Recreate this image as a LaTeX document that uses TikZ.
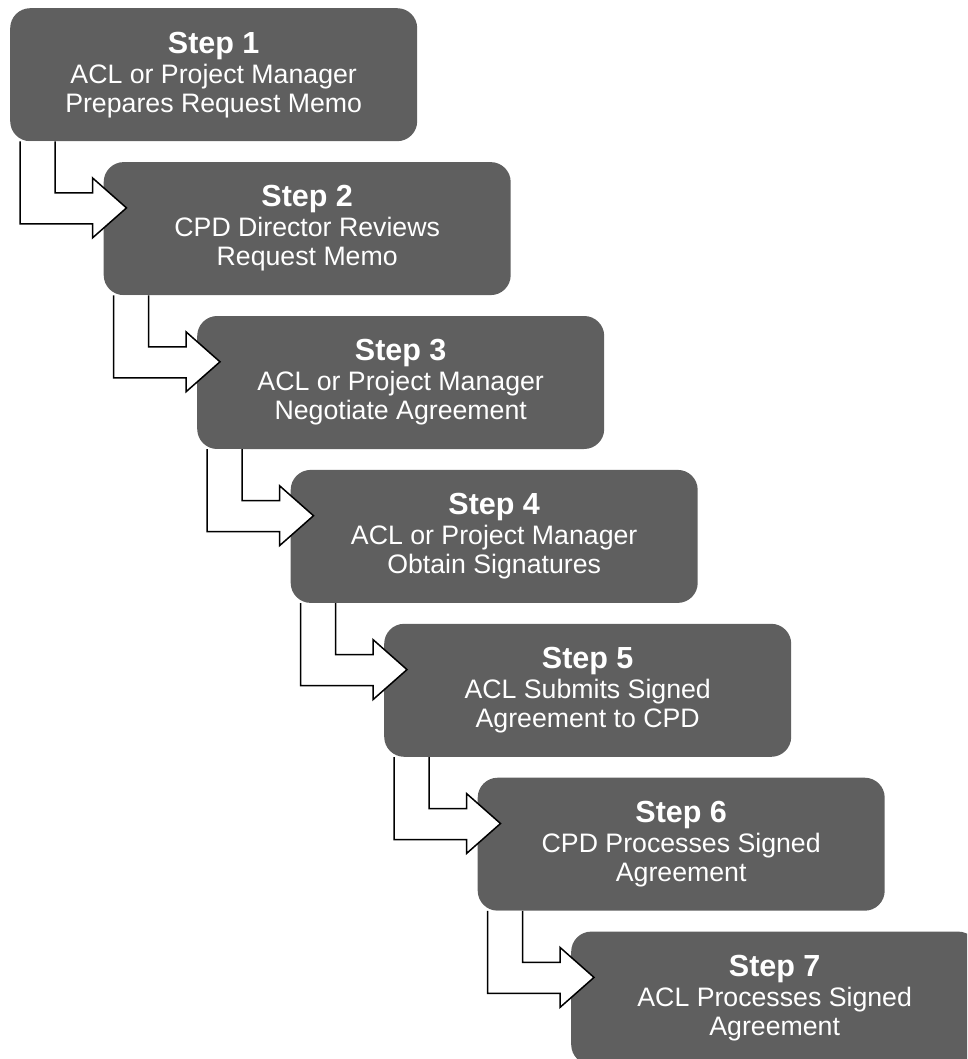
\documentclass[tikz,border=0pt]{standalone}
\usepackage{fontspec}
\setmainfont{Liberation Sans}
\usetikzlibrary{positioning}
\definecolor{boxgray}{RGB}{95,95,95}
\newcommand\stephead[1]{{\fontsize{30.5}{33}\selectfont\bfseries #1}}

\begin{document}
\begin{tikzpicture}[x=1pt,y=1pt,
  stepbox/.style={fill=boxgray,text=white,rounded corners=20pt,align=center,
    minimum width=407pt,minimum height=133pt,inner sep=0pt,
    font=\fontsize{26.7}{29}\selectfont},
  nextstep/.style={below=20.5pt of #1.south west,anchor=north west,xshift=93.5pt},
  turn/.style={draw=black,fill=white,line width=1.5pt,line join=miter}
]
  \clip (0,0) rectangle (967,-1059);
  \node[stepbox,anchor=north west] (s1) at (10,-8)
    {\stephead{Step 1}\\[1pt]ACL or Project Manager\\Prepares Request Memo};
  \node[stepbox,nextstep=s1] (s2) {\stephead{Step 2}\\[1pt]CPD Director Reviews\\Request Memo};
  \node[stepbox,nextstep=s2] (s3) {\stephead{Step 3}\\[1pt]ACL or Project Manager\\Negotiate Agreement};
  \node[stepbox,nextstep=s3] (s4) {\stephead{Step 4}\\[1pt]ACL or Project Manager\\Obtain Signatures};
  \node[stepbox,nextstep=s4] (s5) {\stephead{Step 5}\\[1pt]ACL Submits Signed\\Agreement to CPD};
  \node[stepbox,nextstep=s5] (s6) {\stephead{Step 6}\\[1pt]CPD Processes Signed\\Agreement};
  \node[stepbox,nextstep=s6] (s7) {\stephead{Step 7}\\[1pt]ACL Processes Signed\\Agreement};
  % bent arrows, drawn from under one box into the next
  \foreach \nxt in {s2,s3,s4,s5,s6,s7}
    \draw[turn,shift={(\nxt.north west)}] (-48.5,20.5) -- (-48.5,-31) -- (-11,-31)
      -- (-11,-16) -- (23,-46) -- (-11,-76) -- (-11,-62) -- (-83.5,-62) -- (-83.5,20.5);
\end{tikzpicture}
\end{document}
